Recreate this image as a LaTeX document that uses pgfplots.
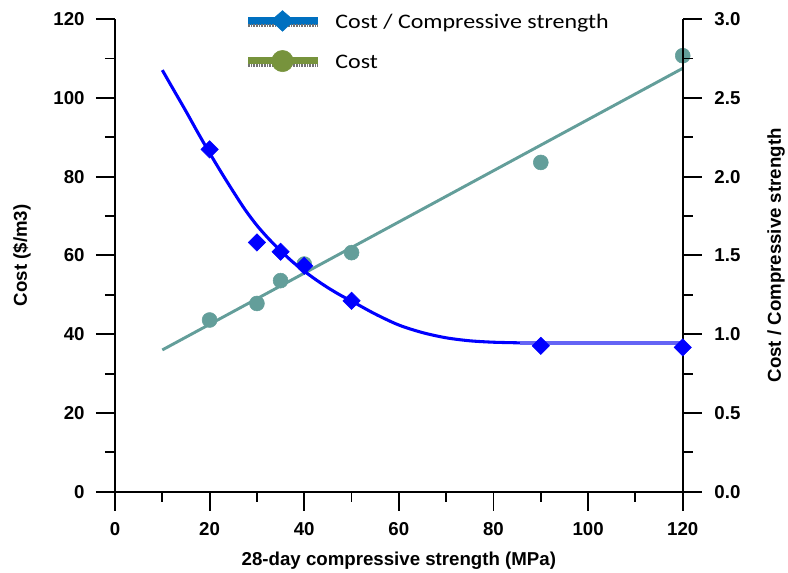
\documentclass[border=0pt]{standalone}
\usepackage{fontspec}
\setmainfont{Liberation Sans}
\newfontfamily\legfont[FakeStretch=1.16]{Carlito}
\usepackage{pgfplots}
\pgfplotsset{compat=1.18}
\definecolor{Teal}{HTML}{639E9A}
\definecolor{LegBlue}{HTML}{0070C0}
\definecolor{LegGreen}{HTML}{77933C}
\definecolor{Flat}{HTML}{6464F5}
\pgfplotsset{common/.style={scale only axis,width=425.8pt,height=354.5pt,
xmin=0,xmax=120,clip=false,
axis line style={line width=1.4pt,black},
every tick/.style={line width=1.4pt,black},
major tick length=14.25pt,minor tick length=7.5pt,tick align=outside,
tick label style={font=\bfseries\fontsize{14}{16}\selectfont},
label style={font=\bfseries\fontsize{14}{16}\selectfont},
/pgf/number format/assume math mode=true}}
\begin{document}
\begin{tikzpicture}
\useasboundingbox (-86.25pt,-60.2pt) rectangle (504.75pt,368.8pt);
\begin{axis}[common,axis x line*=bottom,axis y line*=left,ymin=0,ymax=120,
xtick={0,20,...,120},minor x tick num=1,ytick={0,20,...,120},minor y tick num=1,
xticklabel style={yshift=-5pt},yticklabel style={xshift=-5pt},
xlabel={28-day compressive strength (MPa)},ylabel={Cost (\$/m3)},
xlabel style={at={(axis description cs:0.5,-0.1566)},anchor=base},
ylabel style={at={(axis description cs:-0.1638,0.5)},anchor=center}]
\addplot[Teal,line width=2.2pt] coordinates {(10,36.0)(120,107.5)};
\addplot[Teal,only marks,mark=*,mark size=5.6pt,mark options={fill=Teal,draw=Teal}] coordinates
{(20,43.6)(30,47.8)(35,53.6)(40,57.8)(50,60.7)(90,83.6)(120,110.7)};
\end{axis}
\begin{axis}[common,axis x line=none,axis y line*=right,ymin=0,ymax=3,
ytick={0,0.5,...,3},minor y tick num=1,
yticklabel style={xshift=6pt,/pgf/number format/.cd,fixed,fixed zerofill,precision=1},
ylabel={Cost / Compressive strength},
ylabel style={at={(axis description cs:1.1644,0.5)},anchor=center},
legend style={draw=none,fill=none,at={(rel axis cs:0.2307,1.019)},anchor=north west,
font=\legfont\fontsize{15.5}{18}\selectfont,row sep=12.5pt,inner sep=0pt,
/tikz/every odd column/.append style={column sep=10.5pt}},
legend cell align=left]
\addplot[blue,line width=2.3pt,smooth,forget plot] coordinates
{(10,2.676)(12.5,2.545)(15,2.415)(17.5,2.28)(20,2.15)(22.5,2.025)(25,1.905)
(27.5,1.79)(30,1.69)(32.5,1.605)(35,1.53)(37.5,1.46)(40,1.40)(42.5,1.345)
(45,1.295)(47.5,1.25)(50,1.21)(55,1.128)(60,1.058)(65,1.01)(70,0.977)
(75,0.958)(80,0.949)(85.6,0.945)};
\addplot[Flat,line width=3pt,forget plot] coordinates {(85.6,0.945)(120,0.945)};
\addplot[blue,only marks,mark=square*,mark size=4.6pt,mark options={rotate=45,fill=blue,draw=blue},forget plot]
coordinates {(20,2.173)(30,1.582)(35,1.523)(40,1.434)(50,1.212)(90,0.926)(120,0.916)};
\addlegendimage{legend image code/.code={
\fill[LegBlue] (0pt,-1pt) rectangle (52pt,4pt);
\draw[black!55,line width=2.4pt,dash pattern=on 0.6pt off 0.6pt] (0pt,-2.3pt) -- (52pt,-2.3pt);
\fill[LegBlue] (26pt,9pt) -- (34.6pt,1.5pt) -- (26pt,-6.5pt) -- (17.4pt,1.5pt) -- cycle;}}
\addlegendentry{Cost / Compressive strength}
\addlegendimage{legend image code/.code={
\fill[LegGreen] (0pt,-1pt) rectangle (52pt,3.5pt);
\draw[black!55,line width=2.4pt,dash pattern=on 0.6pt off 0.6pt] (0pt,-2.3pt) -- (52pt,-2.3pt);
\fill[LegGreen] (26pt,1pt) circle (8pt);}}
\addlegendentry{Cost}
\end{axis}
\end{tikzpicture}
\end{document}
